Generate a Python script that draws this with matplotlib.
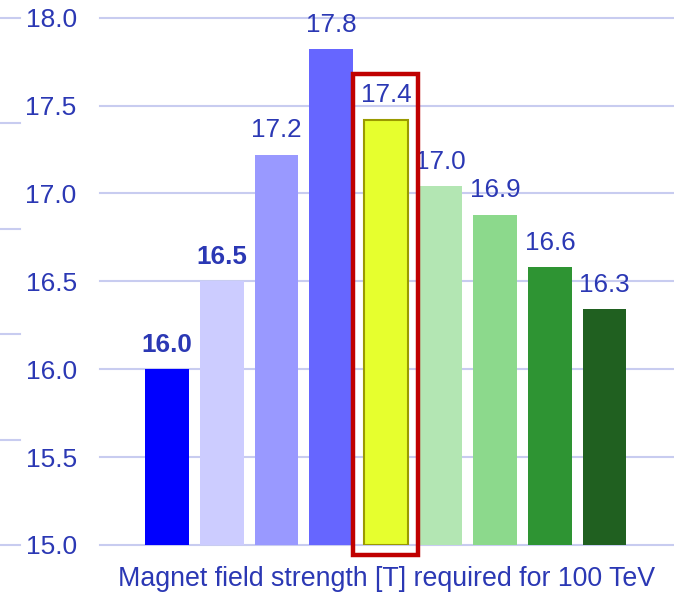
import matplotlib
matplotlib.use("Agg")
import matplotlib.pyplot as plt
import matplotlib.transforms as mtransforms
from matplotlib.patches import Rectangle
import numpy as np

plt.rcParams['font.family'] = ['Liberation Sans', 'DejaVu Sans']

# field strength per option, in tesla
values = [16.0, 16.5, 17.22, 17.82, 17.42, 17.04, 16.88, 16.58, 16.34]
colors = ['#0000ff', '#ccccff', '#9999ff', '#6666ff', '#e6ff2e',
          '#b3e6b3', '#8cd98c', '#2e9433', '#206020']
bold_labels = [True, True, False, False, False, False, False, False, False]
highlight = 4

yticks = [15.0, 15.5, 16.0, 16.5, 17.0, 17.5, 18.0]
side_marks = [15.0, 15.6, 16.2, 16.8, 17.4, 18.0]

text_blue = '#2b38b4'
grid_col = '#c8ccf0'

fig = plt.figure(figsize=(6.74, 5.96), dpi=100)
ax = fig.add_axes([100 / 674, 51 / 596, 574 / 674, 527.3 / 596])

x = np.arange(len(values))
edges = ['#9a9a00' if i == highlight else 'none' for i in x]
bars = ax.bar(x, np.array(values) - 15.0, bottom=15.0, width=0.8,
              color=colors, edgecolor=edges, linewidth=1.5, zorder=3)

for i, (b, v) in enumerate(zip(bars, values)):
    ax.annotate(f'{v:.1f}', (b.get_x() + b.get_width() / 2, v),
                xytext=(0, 12.5), textcoords='offset points',
                ha='center', va='baseline', fontsize=18.7, color=text_blue,
                fontweight='bold' if bold_labels[i] else 'normal',
                annotation_clip=False, zorder=4)

# red frame around the highlighted option
ax.add_patch(Rectangle((highlight - 0.6, 14.943), 1.19, 17.68 - 14.943,
                       fill=False, edgecolor='#c00000', linewidth=3.2,
                       clip_on=False, zorder=5))

ax.set_xlim(-1.23, 9.27)
ax.set_ylim(15.0, 18.0)
ax.set_yticks(yticks)
ax.set_yticklabels([f'{t:.1f}' for t in yticks])
ax.tick_params(axis='y', length=0, pad=16.8, labelsize=19, labelcolor=text_blue)
ax.set_xticks([])
for t in yticks:
    ax.axhline(t, color=grid_col, linewidth=1.5, zorder=1, clip_on=False)
for s in ax.spines.values():
    s.set_visible(False)

# short marks along the far left edge
trans = mtransforms.blended_transform_factory(ax.transAxes, ax.transData)
for m in side_marks:
    ax.plot([-100 / 574, -80 / 574], [m, m], transform=trans, color=grid_col,
            linewidth=1.5, clip_on=False)

ax.set_xlabel('Magnet field strength [T] required for 100 TeV',
              fontsize=19.3, color=text_blue, labelpad=15)

fig.savefig('out.png', dpi=100)
